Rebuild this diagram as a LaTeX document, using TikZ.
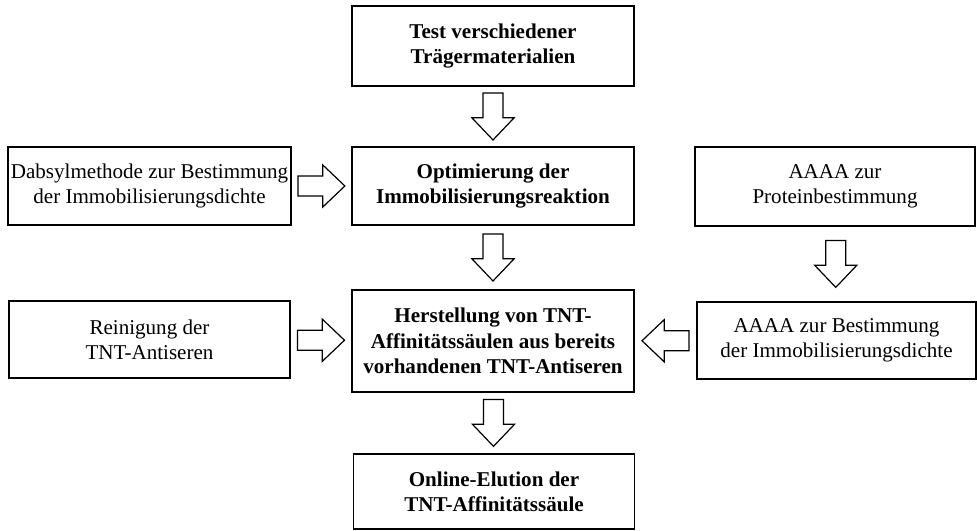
\documentclass[tikz,border=0pt]{standalone}
\usepackage{fontspec}
\setmainfont{Liberation Serif}
\usetikzlibrary{calc}
\tikzset{
  box/.style={draw, line width=1.1pt, rectangle, align=center, inner sep=2pt,
    font=\fontsize{15.8pt}{19pt}\selectfont},
  boldbox/.style={box, font=\fontsize{15.8pt}{19pt}\selectfont\bfseries},
  arrowline/.style={draw, line width=0.9pt, fill=white, line join=miter},
  blockarrow/.pic={\path[arrowline] (-17.6pt,-7.5pt) -- (1pt,-7.5pt) -- (1pt,-15.8pt) -- (17.6pt,0pt) -- (1pt,15.8pt) -- (1pt,7.5pt) -- (-17.6pt,7.5pt) -- cycle;}
}
\begin{document}
\begin{tikzpicture}[x=0.75pt,y=-0.75pt]
\useasboundingbox (0,0) rectangle (977,531);
\node[boldbox, minimum width=211.5pt, minimum height=60pt] (A) at (493,46) {Test verschiedener\\Trägermaterialien};
\node[box, minimum width=210.75pt, minimum height=58.5pt] (B) at (149.5,186) {Dabsylmethode zur Bestimmung\\der Immobilisierungsdichte};
\node[boldbox, minimum width=211.5pt, minimum height=58.5pt] (C) at (493,186) {Optimierung der\\Immobilisierungsreaktion};
\node[box, minimum width=210pt, minimum height=59pt] (D) at (835,186.5) {AAAA zur\\Proteinbestimmung};
\node[box, minimum width=210.75pt, minimum height=57.75pt] (E) at (149.5,339.5) {Reinigung der\\TNT-Antiseren};
\node[boldbox, minimum width=211.5pt, minimum height=76.5pt] (F) at (493,341) {Herstellung von TNT-\\Affinitätssäulen aus bereits\\vorhandenen TNT-Antiseren};
\node[box, minimum width=209.25pt, minimum height=57.75pt] (G) at (836.5,340.5) {AAAA zur Bestimmung\\der Immobilisierungsdichte};
\node[boldbox, minimum width=210.75pt, minimum height=56.5pt] (H) at (494,491.5) {Online-Elution der\\TNT-Affinitätssäule};
\pic[rotate=-90] at ($(A.south)!0.5!(C.north)$) {blockarrow};
\pic at ($(B.east)!0.5!(C.west)$) {blockarrow};
\pic[rotate=-90] at ($(C.south)!0.5!(F.north)$) {blockarrow};
\pic[rotate=-90] at ($(D.south)!0.5!(G.north)$) {blockarrow};
\pic at ($(E.east)!0.5!(F.west)$) {blockarrow};
\pic[rotate=180] at ($(G.west)!0.5!(F.east)$) {blockarrow};
\pic[rotate=-90] at ($(F.south)!0.5!(H.north)$) {blockarrow};
\end{tikzpicture}
\end{document}
